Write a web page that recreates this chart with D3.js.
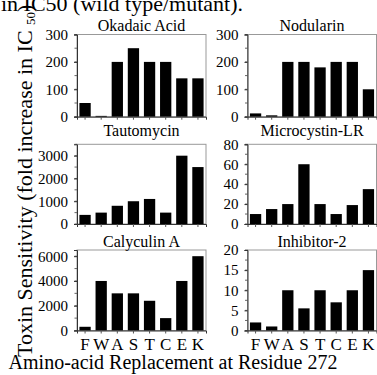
<!DOCTYPE html>
<html>
<head>
<meta charset="utf-8">
<script src="https://cdn.jsdelivr.net/npm/d3@7"></script>
<style>
  body { margin: 0; background: #fff; }
  svg { display: block; }
  svg text { font-family: "Times New Roman", Times, "Liberation Serif", Tinos, "DejaVu Serif", serif; }
</style>
</head>
<body>
<div id="viz"></div>
<script>
/* global d3 */
const residues = ['F', 'W', 'A', 'S', 'T', 'C', 'E', 'K'];

const okadaic = [50, 3, 200, 250, 200, 200, 140, 140];
const nodularin = [12, 5, 200, 200, 180, 200, 200, 100];
const tautomycin = [400, 500, 800, 1000, 1100, 500, 3000, 2500];
const microcystin = [10, 15, 20, 60, 20, 10, 19, 35];
const calyculin = [300, 4000, 3000, 3000, 2400, 1000, 4000, 6000];
const inhibitor2 = [2, 1, 10, 5.5, 10, 7, 10, 15];

const titles = ['Okadaic Acid', 'Nodularin', 'Tautomycin', 'Microcystin-LR', 'Calyculin A', 'Inhibitor-2'];
const yMax = [300, 300, 3500, 80, 6500, 20];
const yTicks = [
  [0, 100, 200, 300],
  [0, 100, 200, 300],
  [0, 1000, 2000, 3000],
  [0, 20, 40, 60, 80],
  [0, 2000, 4000, 6000],
  [0, 5, 10, 15, 20],
];
const yMinor = [50, 50, 500, 10, 1000, 2.5];

const width = 377;
const height = 375;

const svg = d3.select('#viz').append('svg')
  .attr('width', width)
  .attr('height', height);

// panel frame positions (pixels)
const colLeft = [77, 247.5];
const plotW = 129;
const rowTop = [34.5, 144.3, 250];
const rowBottom = [116.7, 224, 330.5];
const titleY = [31, 136, 247];

const series = [okadaic, nodularin, tautomycin, microcystin, calyculin, inhibitor2];

series.forEach((values, i) => {
  const col = i % 2;
  const row = Math.floor(i / 2);
  const x0 = colLeft[col];
  const y0 = rowTop[row];
  const y1 = rowBottom[row];

  const xScale = d3.scaleBand()
    .domain(residues)
    .range([x0, x0 + plotW])
    .paddingInner(0.3)
    .paddingOuter(0.15);

  const yScale = d3.scaleLinear()
    .domain([0, yMax[i]])
    .range([y1, y0]);

  const g = svg.append('g');

  // gray frame
  g.append('rect')
    .attr('x', x0)
    .attr('y', y0)
    .attr('width', plotW)
    .attr('height', y1 - y0)
    .attr('fill', 'none')
    .attr('stroke', '#999')
    .attr('stroke-width', 1);

  g.selectAll('rect.bar')
    .data(values)
    .enter()
    .append('rect')
    .attr('class', 'bar')
    .attr('x', (d, j) => xScale(residues[j]))
    .attr('y', d => yScale(d))
    .attr('width', xScale.bandwidth())
    .attr('height', d => y1 - yScale(d))
    .attr('fill', '#000');

  // minor ticks on the value axis
  const minor = d3.range(0, yMax[i] + 1e-9, yMinor[i]);
  g.selectAll('line.minor')
    .data(minor)
    .enter()
    .append('line')
    .attr('class', 'minor')
    .attr('x1', x0)
    .attr('x2', x0 - 2.5)
    .attr('y1', d => yScale(d))
    .attr('y2', d => yScale(d))
    .attr('stroke', '#666');

  const yAxis = d3.axisLeft(yScale)
    .tickValues(yTicks[i])
    .tickSize(3)
    .tickPadding(6)
    .tickFormat(d3.format('d'));

  g.append('g')
    .attr('transform', `translate(${x0},0)`)
    .call(yAxis)
    .attr('font-family', null)
    .call(a => a.select('.domain').attr('stroke', '#333'))
    .call(a => a.selectAll('.tick line').attr('stroke', '#333'))
    .call(a => a.selectAll('text')
      .attr('font-size', 15)
      .attr('fill', '#000'));

  const xAxis = d3.axisBottom(xScale)
    .tickSize(3)
    .tickPadding(4);

  g.append('g')
    .attr('transform', `translate(0,${y1})`)
    .call(xAxis)
    .attr('font-family', null)
    .call(a => a.select('.domain').attr('stroke', '#333'))
    .call(a => a.selectAll('.tick line').attr('stroke', '#555'))
    .call(a => a.selectAll('text')
      .attr('font-size', 17)
      .attr('fill', '#000')
      .style('display', row === 2 ? null : 'none'));

  g.append('text')
    .attr('x', x0 + plotW / 2)
    .attr('y', titleY[row])
    .attr('text-anchor', 'middle')
    .attr('font-size', 16)
    .text(titles[i]);
});

// caption fragment cut off at the top
svg.append('text')
  .attr('x', 1)
  .attr('y', 11)
  .attr('font-size', 22)
  .text('in IC50 (wild type/mutant).');

// y label
const yLabel = svg.append('text')
  .attr('transform', 'translate(32,357) rotate(-90)')
  .attr('font-size', 22);
yLabel.append('tspan').text('Toxin Sensitivity (fold increase in IC ');
yLabel.append('tspan').attr('font-size', 13).attr('dy', 3).text('50');
yLabel.append('tspan').attr('dy', -3).text(')');

svg.append('text')
  .attr('x', 173)
  .attr('y', 369)
  .attr('text-anchor', 'middle')
  .attr('font-size', 20)
  .text('Amino-acid Replacement at Residue 272');
</script>
</body>
</html>
